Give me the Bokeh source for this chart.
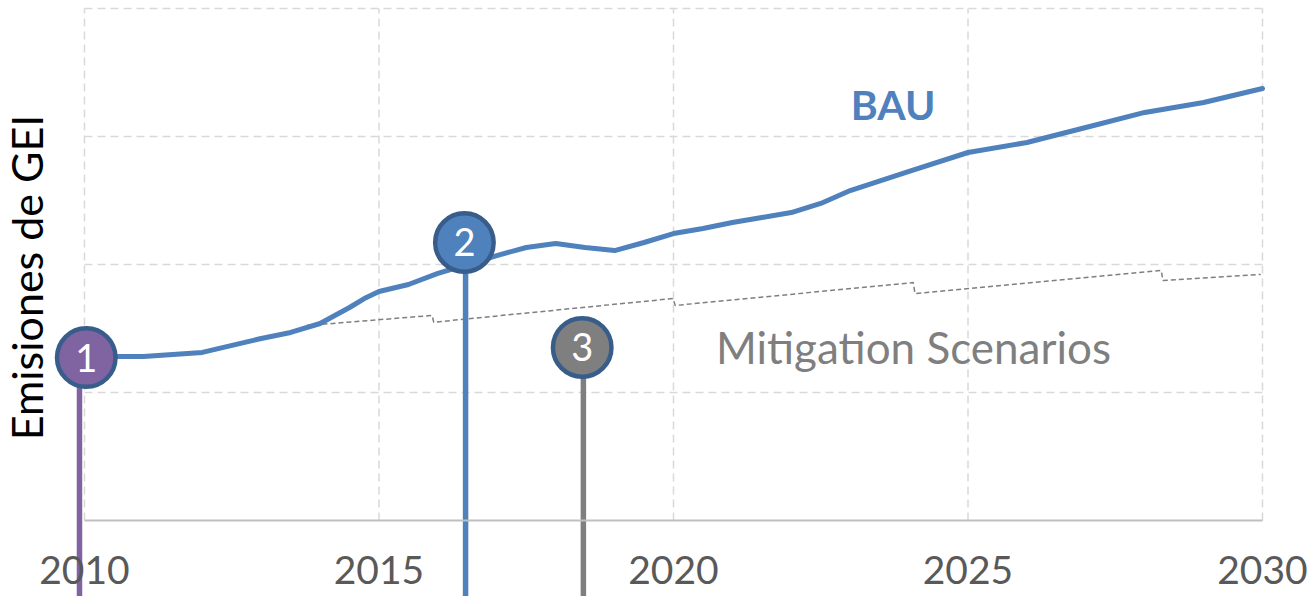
from bokeh.plotting import figure
from bokeh.models import Range1d, LinearAxis, FixedTicker, ColumnDataSource, Label
from bokeh.core.properties import value
from bokeh.embed import file_html
from bokeh.resources import INLINE

# ---------------- data ----------------
bau_years = [2010, 2011, 2012, 2013, 2013.5, 2014, 2014.25, 2014.5, 2014.75, 2015,
             2015.5, 2016, 2016.5, 2017, 2017.5, 2018, 2018.5, 2019, 2019.5, 2020,
             2020.5, 2021, 2021.5, 2022, 2022.5, 2023, 2024, 2025, 2026, 2027,
             2028, 2029, 2030]
bau_values = [1.281, 1.281, 1.313, 1.422, 1.469, 1.539, 1.602, 1.664, 1.734, 1.789,
              1.844, 1.930, 2.000, 2.070, 2.133, 2.164, 2.133, 2.109, 2.172, 2.242,
              2.281, 2.328, 2.367, 2.406, 2.477, 2.578, 2.727, 2.875, 2.953, 3.070,
              3.188, 3.266, 3.375]

mitigation_years = [2013.77, 2015.90, 2015.93, 2019.99, 2020.03, 2024.07, 2024.10,
                    2028.28, 2028.31, 2029.97]
mitigation_values = [1.523, 1.602, 1.549, 1.734, 1.680, 1.859, 1.773, 1.953, 1.875, 1.922]

tick_years = [2010, 2015, 2020, 2025, 2030]
grid_levels = [1, 2, 3, 4]

marker_labels = ["1", "2", "3"]
marker_years = [2010.03, 2016.45, 2018.45]
marker_values = [1.273, 2.172, 1.352]
stem_years = [2009.915, 2016.47, 2018.47]
marker_colors = ["#8064A2", "#4F81BD", "#7F7F7F"]

# ---------------- layout ----------------
X_START, X_END = 2008.574, 2030.781
Y_START, Y_END = -0.59375, 4.0625
FONT = "Lato"

p = figure(width=1308, height=596, output_backend="svg", toolbar_location=None,
           x_axis_type=None, y_axis_type=None,
           x_range=Range1d(X_START, X_END), y_range=Range1d(Y_START, Y_END),
           min_border=0, min_border_left=0, min_border_right=0,
           min_border_top=0, min_border_bottom=0)
p.outline_line_color = None
p.background_fill_color = "white"
p.border_fill_color = "white"

# grid lines (within plot area only)
p.segment(x0=tick_years, y0=grid_levels[0] - 1, x1=tick_years, y1=grid_levels[-1],
          line_color="#D9D9D9", line_width=1.5, line_dash="8 5")
p.segment(x0=tick_years[0], y0=grid_levels, x1=tick_years[-1], y1=grid_levels,
          line_color="#D9D9D9", line_width=1.5, line_dash="8 5")

# x axis at y = 0
xaxis = LinearAxis(fixed_location=0, ticker=FixedTicker(ticks=tick_years),
                   bounds=(tick_years[0], tick_years[-1]),
                   axis_line_color="#BFBFBF", axis_line_width=2,
                   major_tick_line_color=None, major_tick_out=0, major_tick_in=0,
                   minor_tick_line_color=None,
                   major_label_text_font=FONT, major_label_text_font_size="39px",
                   major_label_text_color="#595959", major_label_standoff=35)
p.add_layout(xaxis, "below")

# y axis (title only)
yaxis = LinearAxis(fixed_location=tick_years[0], ticker=FixedTicker(ticks=[]),
                   bounds=(-0.2, 4.0),
                   axis_line_color=None, major_tick_line_color=None,
                   major_tick_out=0, major_tick_in=0, minor_tick_line_color=None,
                   major_label_text_font_size="0px",
                   axis_label="Emisiones de GEI", axis_label_text_font=FONT,
                   axis_label_text_font_size="43px", axis_label_text_font_style="normal",
                   axis_label_text_color="black", axis_label_standoff=33)
p.add_layout(yaxis, "left")

# mitigation scenarios
p.line(mitigation_years, mitigation_values, line_color="#7F7F7F", line_width=1.5,
       line_dash="5 3")

# BAU
p.line(bau_years, bau_values, line_color="#4F81BD", line_width=5,
       line_join="round", line_cap="round")

# markers with stems
src = ColumnDataSource(dict(x=marker_years, y=marker_values, sx=stem_years,
                            label=marker_labels, color=marker_colors))
p.segment(x0="sx", y0="y", x1="sx", y1=Y_START - 0.3, line_color="color",
          line_width=5.5, source=src)
p.scatter(x="x", y="y", size=58.5, fill_color="color", line_color="#385D8A",
          line_width=4.5, source=src)
p.text(x="x", y="y", text="label", text_color="white", text_font=value(FONT),
       text_font_size="38px", text_align="center", text_baseline="middle", source=src)

# annotations
p.add_layout(Label(x=2023.73, y=3.25, text="BAU", text_font=FONT,
                   text_font_size="41px", text_font_style="bold",
                   text_color="#4F81BD", text_align="center", text_baseline="middle"))
p.add_layout(Label(x=2020.72, y=1.359, text="Mitigation Scenarios", text_font=FONT,
                   text_font_size="44px", text_color="#7F7F7F",
                   text_align="left", text_baseline="middle"))

open("out.html", "w").write(file_html(p, INLINE))
